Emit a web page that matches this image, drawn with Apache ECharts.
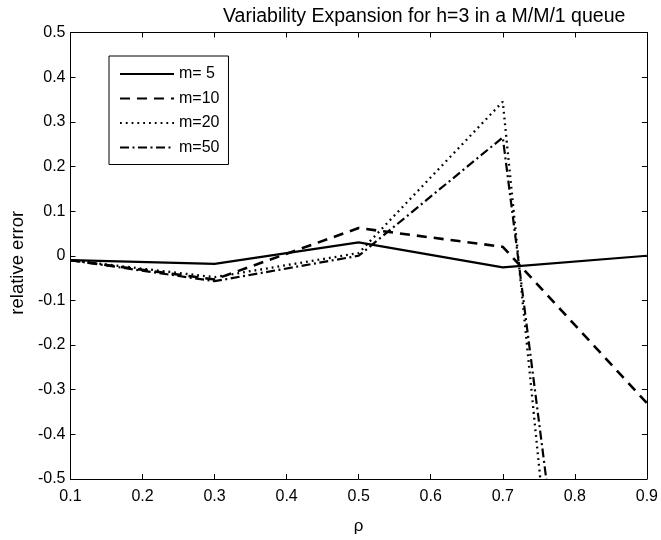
<!DOCTYPE html>
<html>
<head>
<meta charset="utf-8">
<script src="https://cdn.jsdelivr.net/npm/echarts@6/dist/echarts.min.js"></script>
<style>
html,body{margin:0;padding:0;background:#fff;}
#c{width:661px;height:540px;}
</style>
</head>
<body>
<div id="c"></div>
<script>
var rho = [0.1, 0.3, 0.5, 0.7, 0.9];
var m5  = [-0.01, -0.018, 0.03, -0.026, 0.0];
var m10 = [-0.01, -0.053, 0.062, 0.02, -0.33];
var m20 = [-0.01, -0.048, 0.006, 0.345, -2.9];
var m50 = [-0.01, -0.057, 0.0, 0.265, -2.27];
var seriesNames = ['m= 5', 'm=10', 'm=20', 'm=50'];
var xTicks = [0.1, 0.2, 0.3, 0.4, 0.5, 0.6, 0.7, 0.8, 0.9];
var yTicks = [-0.5, -0.4, -0.3, -0.2, -0.1, 0, 0.1, 0.2, 0.3, 0.4, 0.5];

function pairs(ys){ return rho.map(function(x,i){ return [x, ys[i]]; }); }
function fmt(v){ var r = Math.round(v*10)/10; if (r === 0) return '0'; return String(r); }

var FONT = 'Liberation Sans';
var chart = echarts.init(document.getElementById('c'), null, {renderer:'canvas'});
var axisCommon = {
  type: 'value',
  axisLine: {show: true, onZero: false, lineStyle: {color: '#000', width: 1}},
  axisTick: {show: true, inside: true, length: 5, lineStyle: {color: '#000'}},
  splitLine: {show: false}
};
function mk(name, data, type, width){
  return {
    name: name, type: 'line', data: pairs(data), symbol: 'none', showSymbol: false,
    clip: true, animation: false, xAxisIndex: 0, yAxisIndex: 0,
    itemStyle: {color: '#000', opacity: 0},
    lineStyle: {color: '#000', width: width, type: type}
  };
}
chart.setOption({
  animation: false,
  backgroundColor: '#fff',
  title: {
    text: 'Variability Expansion for h=3 in a M/M/1 queue',
    left: 218, top: 2,
    textStyle: {fontFamily: FONT, fontSize: 19.5, fontWeight: 'normal', color: '#000'}
  },
  grid: {left: 67, right: 14, top: 32.5, bottom: 50.5, containLabel: false},
  legend: {
    orient: 'vertical', left: 109, top: 56,
    padding: [10, 9, 9, 10], itemGap: 8.5, itemWidth: 54, itemHeight: 14,
    backgroundColor: '#fff', borderColor: '#000', borderWidth: 1,
    itemStyle: {opacity: 0},
    textStyle: {fontFamily: FONT, fontSize: 16, color: '#000'},
    data: seriesNames
  },
  xAxis: [
    Object.assign({}, axisCommon, {
      min: 0.1, max: 0.9, interval: 0.1, position: 'bottom',
      name: 'ρ', nameLocation: 'middle', nameGap: 39,
      nameTextStyle: {fontFamily: FONT, fontSize: 17, color: '#000'},
      axisLabel: {show: true, margin: 10, fontFamily: FONT, fontSize: 16, color: '#000', formatter: fmt}
    }),
    Object.assign({}, axisCommon, {
      min: 0.1, max: 0.9, interval: 0.1, position: 'top',
      axisLabel: {show: false}
    })
  ],
  yAxis: [
    Object.assign({}, axisCommon, {
      min: -0.5, max: 0.5, interval: 0.1, position: 'left',
      name: 'relative error', nameLocation: 'middle', nameGap: 38, nameRotate: 90,
      nameTextStyle: {fontFamily: FONT, fontSize: 18.5, color: '#000', padding: [0, 14, 0, 0]},
      axisLabel: {show: true, margin: 5, fontFamily: FONT, fontSize: 16, color: '#000', formatter: fmt}
    }),
    Object.assign({}, axisCommon, {
      min: -0.5, max: 0.5, interval: 0.1, position: 'right',
      axisLabel: {show: false}
    })
  ],
  series: [
    mk(seriesNames[0], m5, 'solid', 2.2),
    mk(seriesNames[1], m10, [10, 7], 2.6),
    mk(seriesNames[2], m20, [1.8, 4], 2.3),
    mk(seriesNames[3], m50, [9, 3.5, 2, 3.5], 2.2)
  ]
});
</script>
</body>
</html>
